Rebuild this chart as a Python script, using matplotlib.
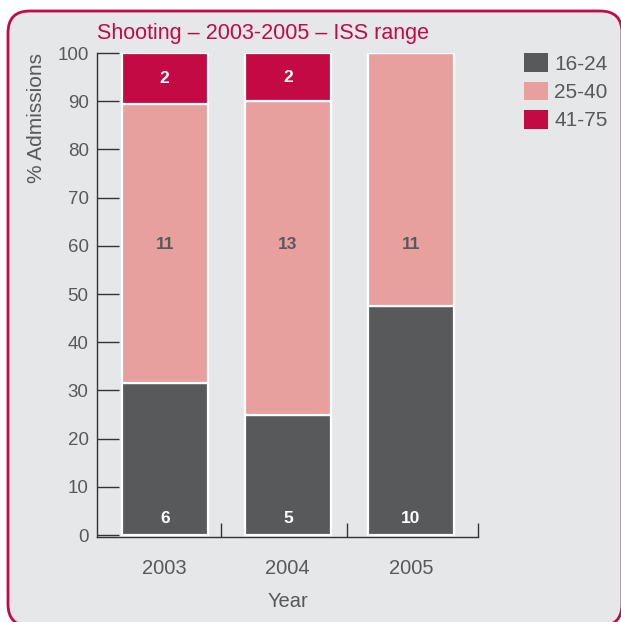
import numpy as np
import matplotlib.pyplot as plt
from matplotlib.patches import FancyBboxPatch, Patch

plt.rcParams['font.family'] = ['Liberation Sans', 'DejaVu Sans']

years = ["2003", "2004", "2005"]
ranges = ["16-24", "25-40", "41-75"]
# admissions counts per ISS range, one list per year
counts = {
    "16-24": [6, 5, 10],
    "25-40": [11, 13, 11],
    "41-75": [2, 2, 0],
}

colors = {"16-24": "#58595b", "25-40": "#e8a09e", "41-75": "#c40a45"}
label_colors = {"16-24": "white", "25-40": "#58595b", "41-75": "white"}
text_grey = "#58595b"
crimson = "#c40a45"

totals = np.sum([counts[r] for r in ranges], axis=0)
pct = {r: np.array(counts[r]) / totals * 100 for r in ranges}

fig = plt.figure(figsize=(6.21, 6.22), dpi=100)
fig.patch.set_facecolor("white")

# rounded panel behind everything
panel = FancyBboxPatch((8 / 621, -4 / 622), 614 / 621, 615 / 622,
                       boxstyle="round,pad=0,rounding_size=0.035",
                       transform=fig.transFigure, facecolor="#e6e7e8",
                       edgecolor=crimson, linewidth=2, zorder=-5)
fig.patches.append(panel)

ax = fig.add_axes([97 / 621, 85 / 622, 381 / 621, 484 / 622])
ax.set_facecolor("none")

x = np.arange(len(years))
bottom = np.zeros(len(years))
for r in ranges:
    ax.bar(x, pct[r], 0.70, bottom=bottom, color=colors[r],
           edgecolor="white", linewidth=1.6, zorder=3)
    for i in range(len(years)):
        if counts[r][i] == 0:
            continue
        if r == "16-24":
            ty = 3.5
        elif r == "25-40":
            ty = 60.2
        else:
            ty = bottom[i] + pct[r][i] / 2
        ax.text(x[i], ty, str(counts[r][i]), ha="center", va="center",
                color=label_colors[r], fontsize=12.5, fontweight="bold", zorder=4)
    bottom += pct[r]

ax.set_xlim(-0.55, 2.545)
ax.set_ylim(-0.4, 100)
ax.set_yticks(np.arange(0, 101, 10))
ax.set_xticks(x)
ax.set_xticklabels(years)
ax.set_xticks([0.455, 1.48, 2.545], minor=True)

for s in ["top", "right"]:
    ax.spines[s].set_visible(False)
for s in ["left", "bottom"]:
    ax.spines[s].set_color("#333333")
    ax.spines[s].set_linewidth(1.0)

ax.tick_params(axis="y", direction="in", length=16, width=1.0, color="#333333",
               labelsize=13.5, labelcolor=text_grey, pad=6)
ax.tick_params(axis="x", which="major", length=0, labelsize=14.5,
               labelcolor=text_grey, pad=16)
ax.tick_params(axis="x", which="minor", direction="in", length=10, width=1.0,
               color="#333333")

ax.set_xlabel("Year", fontsize=14.5, color=text_grey, labelpad=10)

fig.text(37 / 621, 1 - 118 / 622, "% Admissions", rotation=90, ha="center",
         va="center", fontsize=15, color=text_grey)
fig.text(97 / 621, 1 - 33 / 622, "Shooting \u2013 2003-2005 \u2013 ISS range",
         ha="left", va="center", fontsize=15.5, color=crimson)

handles = [Patch(facecolor=colors[r], edgecolor="none") for r in ranges]
fig.legend(handles, ranges, loc="upper left", bbox_to_anchor=(520 / 621, 1 - 49 / 622),
           frameon=False, fontsize=15, labelcolor=text_grey, handlelength=1.15,
           handleheight=1.0, handletextpad=0.3, labelspacing=0.38,
           borderaxespad=0, borderpad=0.2)

fig.savefig("out.png", dpi=100, facecolor=fig.get_facecolor())
